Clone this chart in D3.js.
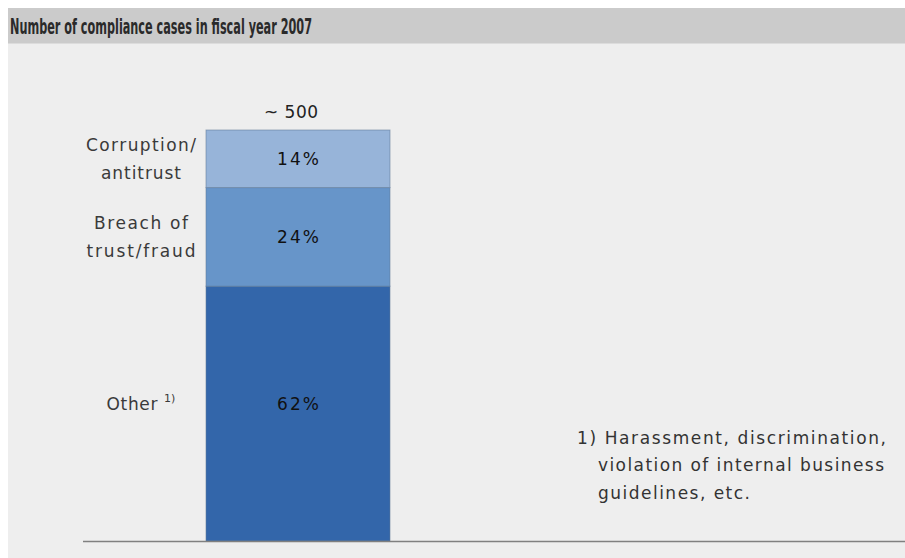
<!DOCTYPE html>
<html>
<head>
<meta charset="utf-8">
<script src="https://cdn.jsdelivr.net/npm/d3@7"></script>
<style>
  html, body { margin: 0; padding: 0; background: #ffffff; }
  svg { display: block; }
</style>
</head>
<body>
<svg id="chart" width="905" height="558"></svg>
<script>
// Compliance cases, fiscal year 2007 — share by category (bottom to top)
const categories = ["Other", "Breach of trust/fraud", "Corruption/antitrust"];
const shares = [62, 24, 14];
const categoryLines = [["Other"], ["Breach of", "trust/fraud"], ["Corruption/", "antitrust"]];
const totalLabel = "~ 500";
const title = "Number of compliance cases in fiscal year 2007";
const footnote = ["1) Harassment, discrimination,", "violation of internal business", "guidelines, etc."];

const colors = ["#3366aa", "#6795c9", "#97b4d9"];

const svg = d3.select("#chart");
const W = 905, H = 558;
const font = "'DejaVu Sans', Verdana, sans-serif";
const fs = 17;

// spreads a single line of text to a given width
function fit(sel, width) {
  const w = sel.node().getComputedTextLength();
  sel.attr("textLength", width)
     .attr("lengthAdjust", w > width ? "spacingAndGlyphs" : "spacing");
  return sel;
}

// panel background and header band
svg.append("rect").attr("x", 8).attr("y", 8).attr("width", W - 8).attr("height", H - 8).attr("fill", "#eeeeee");
svg.append("rect").attr("x", 8).attr("y", 8).attr("width", W - 8).attr("height", 35).attr("fill", "#cbcbcb");
svg.append("rect").attr("x", 8).attr("y", 43).attr("width", W - 8).attr("height", 1).attr("fill", "#dcdcdc");
svg.append("text")
  .attr("x", 10).attr("y", 34)
  .attr("font-family", "'Liberation Sans Narrow', 'DejaVu Sans Condensed', 'Liberation Sans', sans-serif")
  .attr("font-weight", "bold").attr("font-size", 21)
  .attr("fill", "#2a2a2a")
  .attr("textLength", 302).attr("lengthAdjust", "spacingAndGlyphs")
  .text(title);

// stacked layout
const stackRows = [Object.fromEntries(categories.map((c, i) => [c, shares[i]]))];
const series = d3.stack().keys(categories)(stackRows);

const x = d3.scaleBand().domain(["FY2007"]).range([206, 390]).padding(0);
const y = d3.scaleLinear().domain([0, d3.sum(shares)]).range([541, 130]);

const g = svg.append("g");

g.selectAll("rect.seg")
  .data(series)
  .join("rect")
  .attr("class", "seg")
  .attr("x", x("FY2007"))
  .attr("width", x.bandwidth())
  .attr("y", d => y(d[0][1]))
  .attr("height", d => y(d[0][0]) - y(d[0][1]))
  .attr("fill", (d, i) => colors[i])
  .attr("stroke", "#5f7898")
  .attr("stroke-opacity", 0.55)
  .attr("stroke-width", 1);

// the bottom segment's labels sit a little above its middle
const nudge = i => (i === 0 ? -10 : 0);
const cx = x("FY2007") + x.bandwidth() / 2;

// percentage labels inside the bar
series.forEach((d, i) => {
  const t = g.append("text")
    .attr("x", cx)
    .attr("y", (y(d[0][0]) + y(d[0][1])) / 2 + nudge(i))
    .attr("dy", "0.36em")
    .attr("text-anchor", "middle")
    .attr("font-family", font).attr("font-size", fs)
    .attr("fill", "#111111")
    .text(shares[i] + "%");
  fit(t, 42);
});

// category labels to the left of the bar
const labelX = 141;
const lineGap = 28;
const lineWidths = [[51], [94, 109], [110, 80]];
series.forEach((d, i) => {
  const lines = categoryLines[i];
  const cy = (y(d[0][0]) + y(d[0][1])) / 2 + nudge(i);
  lines.forEach((ln, j) => {
    const t = g.append("text")
      .attr("x", i === 0 ? 132 : labelX)
      .attr("y", cy + (j - (lines.length - 1) / 2) * lineGap)
      .attr("dy", "0.36em")
      .attr("font-family", font).attr("font-size", fs)
      .attr("fill", "#3a3a3a")
      .attr("text-anchor", "middle")
      .text(ln);
    fit(t, lineWidths[i][j]);
  });
  if (i === 0) {
    g.append("text")
      .attr("x", 164)
      .attr("y", cy - 2)
      .attr("font-family", font).attr("font-size", 11)
      .attr("fill", "#3a3a3a")
      .text("1)");
  }
});

// total above the bar
fit(g.append("text")
  .attr("x", cx - 7)
  .attr("y", y(d3.sum(shares)) - 12.5)
  .attr("text-anchor", "middle")
  .attr("font-family", font).attr("font-size", fs)
  .attr("fill", "#222222")
  .text(totalLabel), 54);

// baseline
svg.append("line")
  .attr("x1", 83).attr("x2", W)
  .attr("y1", 541.5).attr("y2", 541.5)
  .attr("stroke", "#808080").attr("stroke-width", 1.5);

// footnote
const fnWidths = [309, 286, 152];
footnote.forEach((ln, j) => {
  const t = svg.append("text")
    .attr("x", j === 0 ? 577 : 598)
    .attr("y", 443.5 + j * 27.5)
    .attr("font-family", font).attr("font-size", fs)
    .attr("fill", "#333333")
    .text(ln);
  fit(t, fnWidths[j]);
});
</script>
</body>
</html>
